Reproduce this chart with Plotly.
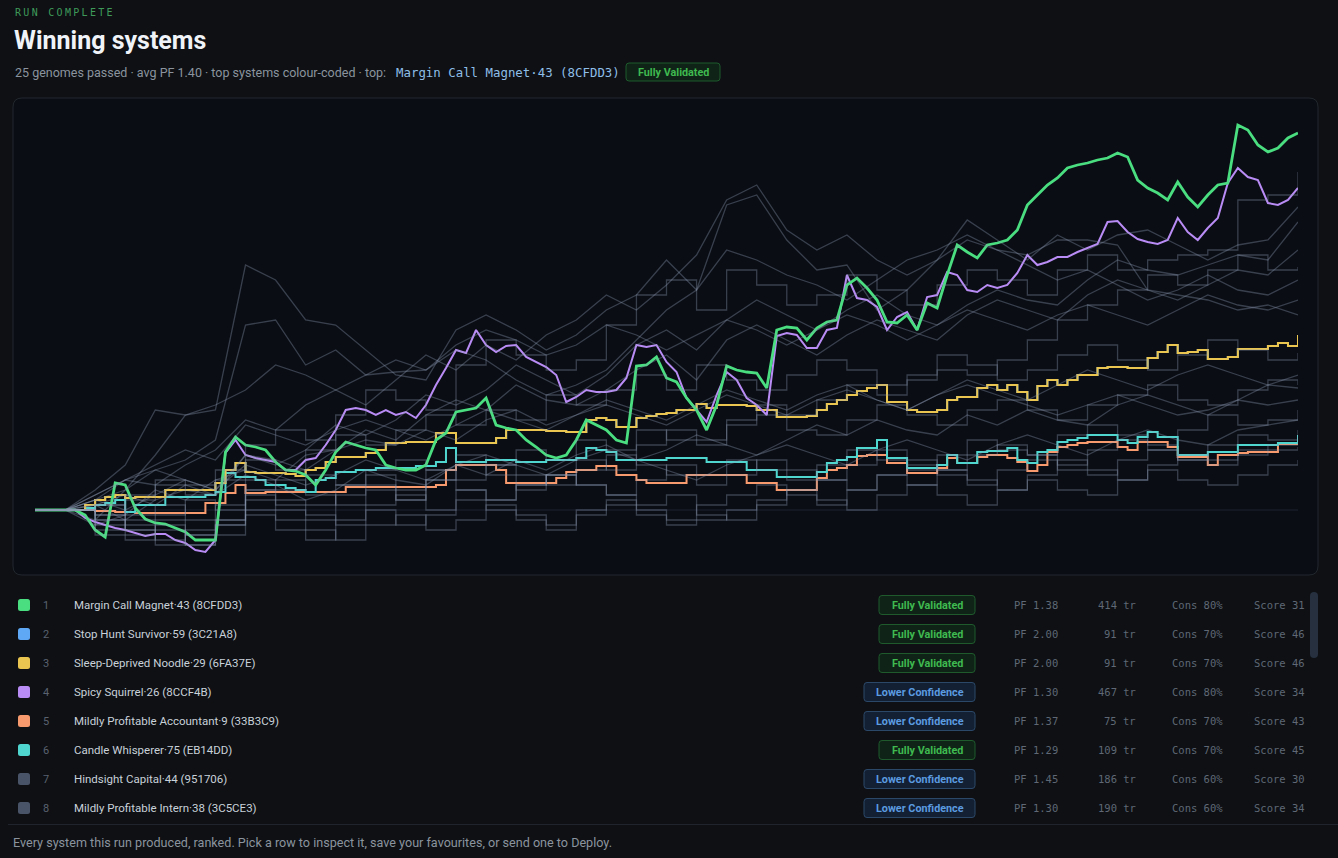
import plotly.graph_objects as go

# ---------------- data ----------------
steps = list(range(127))          # bar index for the highlighted curves
gray_steps = list(range(0, 127, 3))  # coarser sampling for the background genomes

margin_call_magnet = [0,0,0,0,0,-0.5,-2.0,-2.7,2.7,2.5,
 0.2,-0.9,-1.3,-1.4,-1.8,-2.2,-3.0,-3.0,-3.0,5.8,
 7.3,6.5,6.3,6.0,4.8,4.0,3.9,3.5,2.5,4.0,
 5.8,6.8,6.5,6.2,6.0,4.5,4.2,4.0,4.0,4.5,
 7.0,7.7,9.8,10.0,10.2,11.2,8.5,8.2,8.0,7.0,
 6.3,5.5,5.2,5.5,7.0,9.0,8.5,8.0,7.0,6.7,
 14.4,14.5,15.3,13.2,12.8,11.2,10.0,8.0,10.5,14.4,
 14.0,13.8,13.7,12.2,18.0,18.3,18.2,17.0,18.2,18.8,
 19.0,22.5,23.2,22.2,21.0,18.8,18.7,19.5,18.0,20.7,
 20.2,23.5,26.5,25.8,25.2,26.5,26.7,27.0,28.0,30.5,
 31.5,32.5,33.2,34.2,34.5,34.7,35.0,35.2,35.7,35.3,
 33.0,32.2,31.7,31.0,32.8,31.3,30.3,31.5,32.5,32.7,
 38.5,38.0,36.5,35.8,36.2,37.2,37.7]

sleep_deprived_noodle = [0,0,0,0,0,0.5,1.0,1.3,1.5,1.2,
 1.3,1.3,1.3,2.0,2.0,2.0,2.0,2.0,2.7,4.0,
 4.7,3.8,3.7,3.7,3.7,3.6,3.4,4.0,4.2,4.8,
 5.3,5.3,5.3,5.7,6.0,6.7,6.7,6.8,6.8,6.8,
 7.7,7.7,6.7,6.7,6.7,6.7,7.2,8.0,8.0,8.0,
 8.0,7.9,7.9,7.8,7.8,9.0,9.2,9.0,8.3,8.3,
 9.2,9.4,9.6,9.7,10.0,10.0,10.6,10.2,10.5,10.5,
 10.5,10.4,10.0,10.0,9.3,9.3,9.3,9.4,10.0,10.6,
 11.0,11.5,11.9,12.2,12.5,10.8,10.8,10.0,9.8,9.8,
 10.0,11.0,11.3,11.3,12.2,12.5,12.0,12.5,11.8,11.0,
 12.4,13.0,12.5,13.0,13.5,13.5,14.2,14.3,14.3,14.2,
 14.2,15.2,15.8,16.5,15.7,15.8,16.0,15.1,15.1,15.3,
 16.1,16.1,16.1,16.4,16.7,16.4,17.5]

# identical stats (PF 2.00, 91 trades) -> the same curve, hidden under the noodle
stop_hunt_survivor = [0,0,0,0,0,0.5,1.0,1.3,1.5,1.2,
 1.3,1.3,1.3,2.0,2.0,2.0,2.0,2.0,2.7,4.0,
 4.7,3.8,3.7,3.7,3.7,3.6,3.4,4.0,4.2,4.8,
 5.3,5.3,5.3,5.7,6.0,6.7,6.7,6.8,6.8,6.8,
 7.7,7.7,6.7,6.7,6.7,6.7,7.2,8.0,8.0,8.0,
 8.0,7.9,7.9,7.8,7.8,9.0,9.2,9.0,8.3,8.3,
 9.2,9.4,9.6,9.7,10.0,10.0,10.6,10.2,10.5,10.5,
 10.5,10.4,10.0,10.0,9.3,9.3,9.3,9.4,10.0,10.6,
 11.0,11.5,11.9,12.2,12.5,10.8,10.8,10.0,9.8,9.8,
 10.0,11.0,11.3,11.3,12.2,12.5,12.0,12.5,11.8,11.0,
 12.4,13.0,12.5,13.0,13.5,13.5,14.2,14.3,14.3,14.2,
 14.2,15.2,15.8,16.5,15.7,15.8,16.0,15.1,15.1,15.3,
 16.1,16.1,16.1,16.4,16.7,16.4,17.5]

spicy_squirrel = [0,0,0,0,0,-0.8,-1.2,-1.5,-1.8,-2.0,
 -2.3,-2.6,-2.4,-2.4,-3.0,-3.3,-4.0,-4.2,-3.0,5.7,
 7.0,5.5,5.2,5.0,4.8,4.0,4.0,5.0,5.2,6.5,
 8.0,10.0,10.2,10.0,9.5,10.0,9.5,9.8,9.2,10.5,
 12.5,14.2,16.0,15.7,18.0,16.5,15.8,16.4,16.5,15.3,
 14.8,14.3,13.5,10.8,11.3,12.0,11.8,11.8,12.0,13.2,
 16.5,16.3,16.5,14.8,13.8,11.2,10.0,8.8,11.5,13.8,
 13.0,11.2,10.5,9.5,17.4,17.7,17.5,16.2,16.2,18.0,
 18.2,23.5,21.2,21.0,20.3,18.0,19.3,19.8,18.0,21.3,
 21.5,23.8,23.5,22.0,21.8,22.5,22.2,22.5,23.7,25.5,
 24.5,24.8,25.3,25.3,25.8,26.2,26.6,28.8,28.9,27.8,
 27.1,26.8,26.6,27.0,29.2,27.8,27.0,28.2,29.2,32.7,
 34.2,33.3,33.0,30.7,30.5,31.0,32.2]

mildly_profitable_accountant = [0,0,0,0,0,0,-0.1,-0.1,-0.2,-0.2,
 -0.3,-0.3,-0.3,-0.3,-0.3,-0.3,-0.3,0.7,0.7,1.7,
 2.5,1.7,1.7,1.8,1.8,1.8,1.8,1.8,1.8,1.8,
 1.8,2.3,2.3,2.3,2.3,2.3,2.3,2.3,2.3,2.3,
 2.5,4.0,4.5,4.5,4.5,4.5,4.0,2.7,2.7,2.7,
 2.7,2.7,3.2,3.8,4.0,4.0,4.4,4.4,3.5,3.5,
 3.0,2.7,2.7,2.7,2.7,3.5,3.5,3.5,3.5,3.5,
 3.5,2.7,2.7,2.7,2.0,2.0,2.0,2.0,3.2,4.0,
 4.2,4.5,5.4,5.5,5.5,4.7,4.7,3.7,3.7,3.7,
 4.2,5.2,4.7,4.7,5.3,5.5,5.5,5.2,4.8,3.9,
 4.5,5.8,6.3,6.5,6.7,6.8,6.8,6.8,6.3,6.0,
 6.8,6.8,6.8,6.3,5.3,5.3,5.3,4.5,5.5,5.5,
 5.7,5.8,5.8,5.8,6.6,6.6,6.6]

candle_whisperer = [0,0,0,0,0,0.2,0.5,0.7,1.0,-0.2,
 0.5,0.5,0.5,1.3,1.3,1.3,1.3,1.5,1.8,3.7,
 3.3,3.3,3.0,2.5,2.5,2.2,2.0,1.8,3.0,3.2,
 3.8,3.8,4.0,4.0,4.2,4.2,4.2,4.2,4.4,4.4,
 4.8,6.2,4.8,4.8,4.8,5.0,5.0,5.0,4.8,4.8,
 4.8,5.0,5.0,5.0,5.2,6.2,6.0,5.8,5.0,5.0,
 5.0,5.0,5.0,5.2,5.2,5.2,5.2,4.8,4.8,4.8,
 4.8,4.0,4.0,4.0,3.3,3.3,3.3,3.3,3.8,4.7,
 5.0,5.3,6.2,6.2,7.0,5.2,5.2,4.2,4.2,4.2,
 4.5,5.5,4.7,4.7,5.8,5.9,5.9,6.2,5.0,4.7,
 5.8,6.0,6.8,7.0,7.2,7.5,7.5,7.5,7.0,6.7,
 7.3,7.8,7.3,7.3,5.5,5.5,5.5,5.8,5.8,5.8,
 6.5,6.5,6.5,6.5,6.7,6.7,7.5]

# background genomes (ranks 7-25), sampled every 3 bars
gray_curves = [
 [0,0,-1.0,2.0,5.5,9.5,10.0,24.5,23.0,19.0,18.5,16.0,13.5,13.0,18.0,19.5,18.0,16.0,17.5,20.0,21.5,25.0,22.0,26.0,25.0,23.5,22.5,21.0,23.0,25.0,26.0,27.5,26.0,25.5,27.0,27.0,26.5,22.0,21.5,21.0,20.0,20.5,19.5],
 [0,0,1.0,3.0,4.0,5.0,7.0,18.5,19.0,14.5,16.0,13.5,13.8,14.0,16.0,15.0,13.0,11.5,12.5,14.0,17.0,20.0,22.0,30.5,31.5,27.0,24.0,24.5,20.0,22.0,25.0,29.0,27.0,25.0,27.5,26.0,27.5,28.0,26.5,25.0,26.5,27.0,30.3],
 [0,0,-0.5,1.5,3.0,2.5,4.0,6.5,8.0,7.0,9.5,12.0,11.0,10.0,14.5,17.0,15.5,14.0,15.0,18.5,21.5,23.0,20.0,24.0,22.5,20.5,21.5,23.5,22.0,20.5,22.5,24.0,23.0,21.5,24.0,25.5,24.0,25.0,25.5,26.0,31.0,31.5,33.8],
 [0,0,0.5,-1.0,1.0,2.0,1.5,5.5,4.5,6.0,8.5,7.5,9.0,11.5,10.5,12.0,14.5,13.0,11.5,13.5,16.5,18.0,16.0,19.0,21.0,19.5,18.0,20.0,21.5,19.5,18.5,20.5,22.0,21.0,20.5,23.0,25.0,24.0,23.5,24.5,25.5,25.0,28.8],
 [0,0,-1.5,-0.5,2.0,1.0,3.0,4.0,3.0,5.5,6.0,8.0,7.0,9.5,11.0,10.0,12.5,11.0,10.5,12.0,14.0,15.5,13.0,17.0,18.5,17.0,15.5,17.5,19.0,18.0,17.0,19.5,21.0,20.0,19.0,21.5,23.0,22.0,21.0,22.5,24.0,23.5,26.0],
 [0,0,0.5,-2.0,-1.0,-2.5,-1.5,1.0,0.0,-1.0,1.5,2.5,1.0,3.0,4.5,3.5,2.0,3.5,5.0,4.0,6.5,8.0,7.0,9.0,10.5,9.5,11.0,12.5,11.5,13.0,14.0,13.5,15.0,17.0,19.0,20.5,22.0,23.5,22.5,24.0,25.5,24.0,24.3],
 [0,0,1.5,3.0,2.5,4.5,6.0,9.0,8.0,10.5,12.0,10.5,13.0,15.5,14.0,16.5,15.0,17.5,19.0,21.5,20.0,22.5,25.5,31.0,32.5,28.0,26.0,27.5,25.0,23.5,25.0,27.0,26.0,24.5,23.0,24.0,22.5,21.0,22.0,23.5,22.0,21.5,23.0],
 [0,0,-0.5,1.0,2.5,1.5,3.0,5.0,4.0,6.0,7.5,6.5,8.0,9.5,8.5,10.0,9.0,11.5,10.5,12.0,13.5,12.0,14.5,13.0,12.0,13.5,15.0,14.0,12.5,13.5,15.5,14.5,13.0,14.0,15.5,16.5,15.0,14.0,15.5,17.0,16.0,15.0,15.7],
 [0,0,1.0,2.0,4.0,3.0,2.0,5.5,5.0,4.0,6.0,7.0,6.5,8.0,7.0,9.0,10.0,8.5,9.5,11.0,10.0,9.0,10.5,12.0,11.0,10.0,11.5,12.5,11.0,10.0,11.5,13.0,12.0,11.0,12.5,14.0,13.0,12.0,13.5,14.5,13.5,12.5,13.5],
 [0,0,-1.0,-2.0,-3.5,-2.0,-1.0,2.0,1.0,0.5,2.5,3.5,2.0,4.0,5.5,4.5,6.0,5.0,7.0,6.0,8.0,7.0,6.5,8.5,9.5,8.0,7.5,9.0,10.5,9.5,8.5,10.0,11.0,10.0,9.0,10.5,11.5,12.5,11.0,10.5,12.0,13.0,12.5],
 [0,0,0.5,1.5,0.5,2.5,1.5,3.5,2.5,1.0,2.0,4.0,3.0,2.5,4.5,3.5,5.0,4.0,5.5,6.5,5.0,6.0,7.5,6.5,5.5,7.0,8.5,7.5,9.0,8.0,7.5,9.5,8.5,10.0,9.0,8.5,10.5,11.5,10.5,9.5,11.0,12.5,12.2],
 [0,0,-2.0,-1.5,-3.0,-2.5,-1.0,1.5,0.5,-0.5,-1.5,0.5,1.5,0.0,2.0,1.0,2.5,3.5,2.5,1.5,3.0,4.5,3.5,5.0,4.0,3.0,4.5,6.0,5.0,4.0,5.5,7.0,6.0,5.5,7.5,8.5,7.5,6.5,8.0,9.5,8.5,9.0,10.0],
 [0,0,1.0,0.0,1.5,3.0,2.0,4.5,3.5,2.5,3.5,5.0,4.0,3.0,4.5,5.5,4.5,3.5,5.0,6.0,5.0,4.0,3.0,4.5,5.5,6.5,5.5,4.5,6.0,7.0,6.0,5.0,6.5,7.5,6.5,5.5,7.0,8.0,7.0,6.5,8.0,8.5,9.0],
 [0,0,-1.0,-2.5,-1.5,-3.5,-2.5,0.0,-1.0,-2.0,-3.0,-1.5,-0.5,-2.0,-1.0,0.5,-0.5,-1.5,0.0,1.0,0.0,-1.0,0.5,1.5,2.5,1.5,0.5,2.0,3.5,2.5,4.0,3.0,2.0,3.5,5.0,4.0,3.0,4.5,5.5,5.0,6.0,6.5,7.3],
 [0,0,0.5,-1.0,-0.5,1.0,0.0,2.0,3.0,1.5,0.5,2.0,1.0,3.0,2.0,1.0,2.5,3.5,2.5,1.5,0.5,1.5,-0.5,-1.0,0.5,2.0,3.0,2.0,3.5,4.5,3.5,2.5,4.0,5.0,4.0,3.5,5.0,6.0,5.0,4.5,5.5,6.0,6.3],
 [0,0,2.0,4.5,10.0,9.5,10.5,12.0,14.5,13.5,12.0,13.5,15.0,14.0,16.5,18.0,17.0,15.5,16.5,18.5,17.5,16.0,17.5,19.0,18.0,16.5,18.0,19.5,18.5,17.0,18.5,20.0,19.0,18.0,19.5,20.5,19.5,18.5,20.0,21.5,20.5,20.0,21.0],
 [0,0,1.5,3.0,4.5,6.0,5.0,8.5,7.5,6.5,8.0,9.0,8.0,7.0,8.5,10.0,9.0,8.0,9.5,10.5,9.5,8.5,10.0,11.5,10.5,9.5,11.0,12.0,11.0,10.0,11.5,12.5,11.5,10.5,9.5,10.5,11.5,10.5,9.5,10.0,11.0,10.5,11.0],
 [0,0,-1.5,-0.5,0.5,-1.0,0.5,3.0,2.0,3.5,2.5,4.0,5.0,4.0,3.0,4.5,3.5,2.5,4.0,5.5,4.5,3.5,2.5,3.5,5.0,4.0,3.0,4.5,6.0,5.0,4.0,5.5,6.5,5.5,4.5,6.0,7.0,6.0,5.0,6.5,7.5,7.0,8.0],
 [0,0,-2.5,-3.0,-2.0,-3.5,-1.5,-0.5,-2.0,-3.0,-1.0,0.0,-1.5,-0.5,1.0,0.0,-1.0,-2.0,-0.5,0.5,-0.5,-1.5,-1.0,0.0,1.0,2.0,1.0,0.0,1.5,2.5,1.5,0.5,2.0,3.0,2.0,1.5,3.0,4.0,3.0,2.5,3.5,4.5,5.0],
]
stepped_gray = {2, 5, 7, 9, 11, 13, 14, 17, 18}

# ranked table
ranks = [1, 2, 3, 4, 5, 6, 7, 8]
names = ["Margin Call Magnet·43 (8CFDD3)", "Stop Hunt Survivor·59 (3C21A8)",
         "Sleep-Deprived Noodle·29 (6FA37E)", "Spicy Squirrel·26 (8CCF4B)",
         "Mildly Profitable Accountant·9 (33B3C9)", "Candle Whisperer·75 (EB14DD)",
         "Hindsight Capital·44 (951706)", "Mildly Profitable Intern·38 (3C5CE3)"]
badges = ["Fully Validated", "Fully Validated", "Fully Validated", "Lower Confidence",
          "Lower Confidence", "Fully Validated", "Lower Confidence", "Lower Confidence"]
pf = [1.38, 2.00, 2.00, 1.30, 1.37, 1.29, 1.45, 1.30]
trades = [414, 91, 91, 467, 75, 109, 186, 190]
cons = [80, 70, 70, 80, 70, 70, 60, 60]
score = [31, 46, 46, 34, 43, 45, 30, 34]
swatch_colors = ["#4ade80", "#5fa8f5", "#eac54f", "#b98cf5", "#f79a6e", "#4fd6cf", "#4a5468", "#4a5468"]

# ---------------- styling ----------------
W, H = 1338, 858
PAGE_BG = "#0e1014"
PANEL_BG = "#0a0d14"
BORDER = "#22272e"
SANS = "Roboto, 'Noto Sans', sans-serif"
MONO = "'DejaVu Sans Mono', monospace"


def fx(p):
    return p / W


def fy(p):
    return 1 - p / H


def rrect(x0, y0, x1, y1, r):
    rx, ry = r / W, r / H
    X0, X1, Y0, Y1 = fx(x0), fx(x1), fy(y0), fy(y1)
    return (f"M {X0+rx} {Y0} L {X1-rx} {Y0} Q {X1} {Y0} {X1} {Y0-ry} "
            f"L {X1} {Y1+ry} Q {X1} {Y1} {X1-rx} {Y1} L {X0+rx} {Y1} "
            f"Q {X0} {Y1} {X0} {Y1+ry} L {X0} {Y0-ry} Q {X0} {Y0} {X0+rx} {Y0} Z")


fig = go.Figure()

highlight = [
    ("Stop Hunt Survivor·59", stop_hunt_survivor, "#5fa8f5", 2.0, "hv"),
    ("Mildly Profitable Accountant·9", mildly_profitable_accountant, "#f79a6e", 2.0, "hv"),
    ("Candle Whisperer·75", candle_whisperer, "#4fd6cf", 2.0, "hv"),
    ("Sleep-Deprived Noodle·29", sleep_deprived_noodle, "#eac54f", 2.0, "hv"),
    ("Spicy Squirrel·26", spicy_squirrel, "#b98cf5", 2.0, "linear"),
    ("Margin Call Magnet·43", margin_call_magnet, "#4ade80", 2.8, "linear"),
]
for nm, ys, col, w, shp in highlight:
    fig.add_trace(go.Scatter(x=steps, y=ys, mode="lines", name=nm,
                             line=dict(color=col, width=w, shape=shp)))

for i, ys in enumerate(gray_curves):
    fig.add_trace(go.Scatter(x=gray_steps, y=ys, mode="lines", name=f"Rank {i + 7}",
                             line=dict(color="rgba(140,156,180,0.36)", width=1.3,
                                       shape="hv" if i in stepped_gray else "linear")))

shapes = []
# chart panel
shapes.append(dict(type="path", xref="paper", yref="paper", path=rrect(13, 98, 1318, 575, 9),
                   fillcolor=PANEL_BG, line=dict(color=BORDER, width=1), layer="below"))
# break-even line
shapes.append(dict(type="line", xref="x", yref="y", x0=0, x1=126, y0=0, y1=0,
                   line=dict(color="#1d2330", width=1), layer="below"))
# footer separator
shapes.append(dict(type="line", xref="paper", yref="paper", x0=fx(8), x1=1, y0=fy(824.5), y1=fy(824.5),
                   line=dict(color="#20252d", width=1)))
# scrollbar
shapes.append(dict(type="path", xref="paper", yref="paper", path=rrect(1310, 592, 1318, 658, 4),
                   fillcolor="#26303f", line=dict(width=0)))

annotations = []


def txt(x, y, s, size, color, family=SANS, anchor="left", weight=None):
    f = dict(size=size, color=color, family=family)
    if weight:
        f["weight"] = weight
    annotations.append(dict(x=fx(x), y=fy(y), xref="paper", yref="paper", text=s, showarrow=False,
                            xanchor=anchor, yanchor="middle", font=f, align=anchor))


def badge(x0, x1, yc, label, h=19):
    if label == "Fully Validated":
        fill, border, col = "#0f2416", "#1f5a2d", "#3fb950"
    else:
        fill, border, col = "#132033", "#2c4868", "#5b9be0"
    shapes.append(dict(type="path", xref="paper", yref="paper",
                       path=rrect(x0, yc - h / 2, x1, yc + h / 2, 3),
                       fillcolor=fill, line=dict(color=border, width=1)))
    txt((x0 + x1) / 2, yc + 0.5, label, 10.8, col, anchor="center", weight=700)


# header
txt(13, 13, '<span style="letter-spacing:2.3px">RUN COMPLETE</span>', 10, "#3f9a5a", family=MONO)
txt(12, 41, "Winning systems", 25, "#f0f4f8", weight=700)
txt(13, 72, "25 genomes passed · avg PF 1.40 · top systems colour-coded · top:", 12.5, "#8b949e")
txt(394, 72.5, names[0], 12.4, "#8fbfe8", family=MONO)
badge(626, 720, 72, "Fully Validated", h=18)

# table rows
for i, r in enumerate(ranks):
    yc = 605 + 29 * i
    shapes.append(dict(type="path", xref="paper", yref="paper", path=rrect(18, yc - 6, 30, yc + 6, 2.5),
                       fillcolor=swatch_colors[i], line=dict(width=0)))
    txt(41, yc, str(r), 11, "#5a6270")
    txt(72, yc, names[i], 11.5, "#c9d1d9")
    x0 = 879 if badges[i] == "Fully Validated" else 864
    badge(x0, 975, yc, badges[i])
    txt(1012, yc, f"PF {pf[i]:.2f}", 10.5, "#5f6874", family=MONO)
    txt(1138, yc, f"{trades[i]} tr", 10.5, "#5f6874", family=MONO, anchor="right")
    txt(1170, yc, f"Cons {cons[i]}%", 10.5, "#5f6874", family=MONO)
    txt(1252, yc, f"Score {score[i]}", 10.5, "#5f6874", family=MONO)

# footer
txt(11, 842, "Every system this run produced, ranked. Pick a row to inspect it, save your favourites, or send one to Deploy.",
    12.6, "#8b949e")

fig.update_layout(
    width=W, height=H, autosize=False,
    margin=dict(l=0, r=0, t=0, b=0),
    paper_bgcolor=PAGE_BG, plot_bgcolor=PANEL_BG,
    showlegend=False, hovermode="closest",
    xaxis=dict(domain=[fx(35), fx(1298)], range=[0, 126], visible=False, fixedrange=True),
    yaxis=dict(domain=[fy(565), fy(110)], range=[-5.5, 40], visible=False, fixedrange=True),
    shapes=shapes, annotations=annotations,
)

fig.write_html("out.html", config={"displayModeBar": False})
